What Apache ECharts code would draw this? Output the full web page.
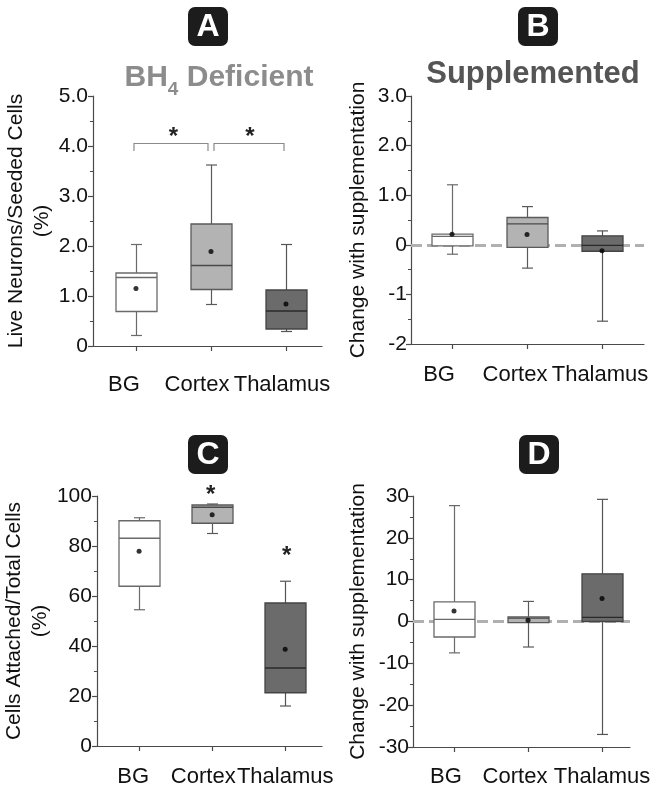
<!DOCTYPE html>
<html><head><meta charset="utf-8">
<script src="https://cdn.jsdelivr.net/npm/echarts@6/dist/echarts.min.js"></script>
<style>html,body{margin:0;padding:0;background:#fff}#c{width:664px;height:793px}</style>
</head><body><div id="c"></div>
<script>
// ---------- DATA ----------
const categories = ['BG', 'Cortex', 'Thalamus'];
// each box: [lower whisker, Q1, median, Q3, upper whisker]
const boxA = [[0.21, 0.69, 1.37, 1.46, 2.03], [0.83, 1.13, 1.61, 2.44, 3.62], [0.29, 0.34, 0.70, 1.12, 2.03]];
const meanA = [1.15, 1.89, 0.84];
const boxB = [[-0.19, -0.02, 0.17, 0.215, 1.21], [-0.47, -0.05, 0.42, 0.55, 0.77], [-1.54, -0.13, -0.01, 0.18, 0.28]];
const meanB = [0.215, 0.21, -0.12];
const boxC = [[54.5, 63.9, 83.1, 90.1, 91.3], [85.0, 89.1, 95.5, 96.4, 96.8], [16.0, 21.3, 31.2, 57.2, 65.9]];
const meanC = [77.9, 92.5, 38.7];
const boxD = [[-7.5, -3.7, 0.5, 4.7, 27.7], [-6.1, -0.25, 0.8, 1.1, 4.8], [-27.0, 0.0, 1.0, 11.4, 29.2]];
const meanD = [2.5, 0.3, 5.5];
// significance brackets in A: [from category, to category, end value, bar value]
const bracketsA = [[0, 1, 3.9, 4.05], [1, 2, 3.9, 4.05]];
const starsA = [[0.5, 4.32], [1.52, 4.32]];
const starsC = [[0.98, 103], [2.02, 78.8]];
// y tick values and labels
const yTicksA = [0, 1, 2, 3, 4, 5];
const yLabelsA = ['0', '1.0', '2.0', '3.0', '4.0', '5.0'];
const yTicksB = [-2, -1, 0, 1, 2, 3];
const yLabelsB = ['-2', '-1', '0', '1.0', '2.0', '3.0'];
const yTicksC = [0, 20, 40, 60, 80, 100];
const yLabelsC = ['0', '20', '40', '60', '80', '100'];
const yTicksD = [-30, -20, -10, 0, 10, 20, 30];
const yLabelsD = ['-30', '-20', '-10', '0', '10', '20', '30'];
const titleA = 'BH{sub|4} Deficient';
const titleB = 'Supplemented';
const yNameA = 'Live Neurons/Seeded Cells\n(%)';
const yNameB = 'Change with supplementation';
const yNameC = 'Cells Attached/Total Cells\n(%)';
const yNameD = 'Change with supplementation';
const badges = ['A', 'B', 'C', 'D'];

// ---------- STYLE ----------
const FONT = '"Liberation Sans", Arial, sans-serif';
const AX = '#4a4a4a';
const boxStyles = [
  { fill: '#ffffff', stroke: '#6a6a6a', median: '#6a6a6a', whisker: '#6a6a6a' },
  { fill: '#b3b3b3', stroke: '#5a5a5a', median: '#4a4a4a', whisker: '#5a5a5a' },
  { fill: '#6b6b6b', stroke: '#444444', median: '#2a2a2a', whisker: '#555555' }
];

function boxRender(params, api) {
  const i = api.value(0);
  const lo = api.coord([i, api.value(1)]);
  const q1 = api.coord([i, api.value(2)]);
  const md = api.coord([i, api.value(3)]);
  const q3 = api.coord([i, api.value(4)]);
  const hi = api.coord([i, api.value(5)]);
  const x = Math.round(lo[0]) + 0.5;
  const bw = 41, cw = 11;
  const s = boxStyles[i];
  const ls = { stroke: s.whisker, lineWidth: 1.2 };
  return {
    type: 'group', children: [
      { type: 'line', shape: { x1: x, y1: hi[1], x2: x, y2: q3[1] }, style: ls },
      { type: 'line', shape: { x1: x, y1: q1[1], x2: x, y2: lo[1] }, style: ls },
      { type: 'line', shape: { x1: x - cw / 2, y1: hi[1], x2: x + cw / 2, y2: hi[1] }, style: ls },
      { type: 'line', shape: { x1: x - cw / 2, y1: lo[1], x2: x + cw / 2, y2: lo[1] }, style: ls },
      { type: 'rect', shape: { x: x - bw / 2, y: q3[1], width: bw, height: q1[1] - q3[1] },
        style: { fill: s.fill, stroke: s.stroke, lineWidth: 1.3 } },
      { type: 'line', shape: { x1: x - bw / 2, y1: md[1], x2: x + bw / 2, y2: md[1] },
        style: { stroke: s.median, lineWidth: 1.3 } }
    ]
  };
}
function bracketRender(params, api) {
  const a = api.coord([api.value(0), api.value(3)]);
  const b = api.coord([api.value(1), api.value(3)]);
  const ea = api.coord([api.value(0), api.value(2)]);
  const left = params.dataIndex === 0 ? a[0] - 2 : a[0] + 3;
  const right = params.dataIndex === 0 ? b[0] - 3 : b[0] - 2;
  return {
    type: 'polyline',
    shape: { points: [[left, ea[1]], [left, a[1]], [right, a[1]], [right, ea[1]]] },
    style: { stroke: '#8a8a8a', lineWidth: 1.2, fill: null }
  };
}
function starRender(params, api) {
  const p = api.coord([api.value(0), api.value(1)]);
  return {
    type: 'text', x: p[0], y: p[1] + 7,
    style: { text: '*', font: 'bold 24px ' + FONT, fill: '#222', align: 'center', verticalAlign: 'middle' }
  };
}

const grids = [
  { left: 93, top: 96, width: 229, height: 250 },
  { left: 411, top: 96, width: 233, height: 248 },
  { left: 94, top: 496, width: 228, height: 250 },
  { left: 413, top: 496, width: 217, height: 251 }
];
const xRanges = [[-0.573, 2.48], [-0.547, 2.56], [-0.577, 2.504], [-0.554, 2.378]];
const labelShift = [[-12, -14, -4], [-13, -12, -2], [-6, -9, 0], [-8, -13, 0]];
const labelMargin = [28, 20, 20, 19];

function xAxisFor(g) {
  const g0 = grids[g];
  const unitPx = g0.width / (xRanges[g][1] - xRanges[g][0]);
  const labelAt = [0, 1, 2].map(i => i + labelShift[g][i] / unitPx);
  return {
    gridIndex: g, type: 'value', min: xRanges[g][0], max: xRanges[g][1],
    axisLine: { show: true, onZero: false, lineStyle: { color: AX, width: 1.2 } },
    axisTick: { show: true, customValues: [0, 1, 2], length: 5, lineStyle: { color: AX, width: 1.2 } },
    axisLabel: { customValues: labelAt, margin: labelMargin[g],
      fontSize: 22, fontFamily: FONT, color: '#111',
      formatter: v => categories[Math.round(v)] },
    splitLine: { show: false }
  };
}
function yAxisFor(g, ticks, labels, name, gap, lmargin) {
  return {
    gridIndex: g, type: 'value', min: ticks[0], max: ticks[ticks.length - 1], interval: ticks[1] - ticks[0],
    axisLine: { show: true, onZero: false, lineStyle: { color: AX, width: 1.2 } },
    axisTick: { show: true, length: 5, lineStyle: { color: AX, width: 1.2 } },
    minorTick: { show: true, splitNumber: 2, length: 3, lineStyle: { color: AX, width: 1 } },
    splitLine: { show: false },
    axisLabel: { fontSize: 21, fontFamily: FONT, color: '#111', margin: lmargin,
      formatter: v => { const k = ticks.findIndex(t => Math.abs(t - v) < 1e-9); return k >= 0 ? labels[k] : ''; } },
    name: name, nameLocation: 'middle', nameGap: gap,
    nameTextStyle: { fontSize: 21, fontFamily: FONT, color: '#111', lineHeight: 26 }
  };
}

const zeroLine = {
  silent: true, symbol: 'none', z: 1,
  lineStyle: { color: '#b0b0b0', width: 3, type: [11, 5] },
  label: { show: false }, data: [{ yAxis: 0 }]
};

const series = [];
[[boxA, meanA], [boxB, meanB], [boxC, meanC], [boxD, meanD]].forEach((pair, g) => {
  const s = {
    type: 'custom', xAxisIndex: g, yAxisIndex: g, z: 10, renderItem: boxRender,
    data: pair[0].map((b, i) => [i].concat(b)), encode: { x: 0, y: [1, 2, 3, 4, 5] }
  };
  if (g === 1 || g === 3) s.markLine = zeroLine;
  series.push(s);
  series.push({
    type: 'scatter', xAxisIndex: g, yAxisIndex: g, z: 20, symbolSize: 5,
    itemStyle: { color: '#000' }, data: pair[1].map((m, i) => [i, m])
  });
});
series.push({ type: 'custom', xAxisIndex: 0, yAxisIndex: 0, renderItem: bracketRender, data: bracketsA, z: 5 });
series.push({ type: 'custom', xAxisIndex: 0, yAxisIndex: 0, renderItem: starRender, data: starsA, z: 5 });
series.push({ type: 'custom', xAxisIndex: 2, yAxisIndex: 2, renderItem: starRender, data: starsC, z: 5 });

const badgePos = [[188, 7], [518, 7], [188, 435], [519, 435]];
const graphic = [];
badges.forEach((b, k) => {
  graphic.push({ type: 'rect', shape: { x: badgePos[k][0], y: badgePos[k][1], width: 40, height: 39, r: 7 },
    style: { fill: '#1c1c1c' } });
  graphic.push({ type: 'text', x: badgePos[k][0] + 20, y: badgePos[k][1] + 20,
    style: { text: b, fill: '#fff', font: 'bold 32px ' + FONT, align: 'center', verticalAlign: 'middle' } });
});

const chart = echarts.init(document.getElementById('c'), null, { renderer: 'canvas' });
chart.setOption({
  animation: false,
  backgroundColor: '#fff',
  title: [
    { text: titleA, left: 214, top: 58, textAlign: 'center',
      textStyle: { fontSize: 30, fontWeight: 'bold', fontFamily: FONT, color: '#8c8c8c',
        rich: { sub: { fontSize: 19, fontWeight: 'bold', fontFamily: FONT, color: '#8c8c8c', verticalAlign: 'bottom', padding: [0, 0, -6, 0] } } } },
    { text: titleB, left: 528, top: 54, textAlign: 'center',
      textStyle: { fontSize: 31, fontWeight: 'bold', fontFamily: FONT, color: '#555555' } }
  ],
  grid: grids,
  xAxis: [0, 1, 2, 3].map(xAxisFor),
  yAxis: [
    yAxisFor(0, yTicksA, yLabelsA, yNameA, 36, 5),
    yAxisFor(1, yTicksB, yLabelsB, yNameB, 40, 4),
    yAxisFor(2, yTicksC, yLabelsC, yNameC, 36, 5),
    yAxisFor(3, yTicksD, yLabelsD, yNameD, 42, 4)
  ],
  series: series,
  graphic: graphic
});
</script></body></html>
